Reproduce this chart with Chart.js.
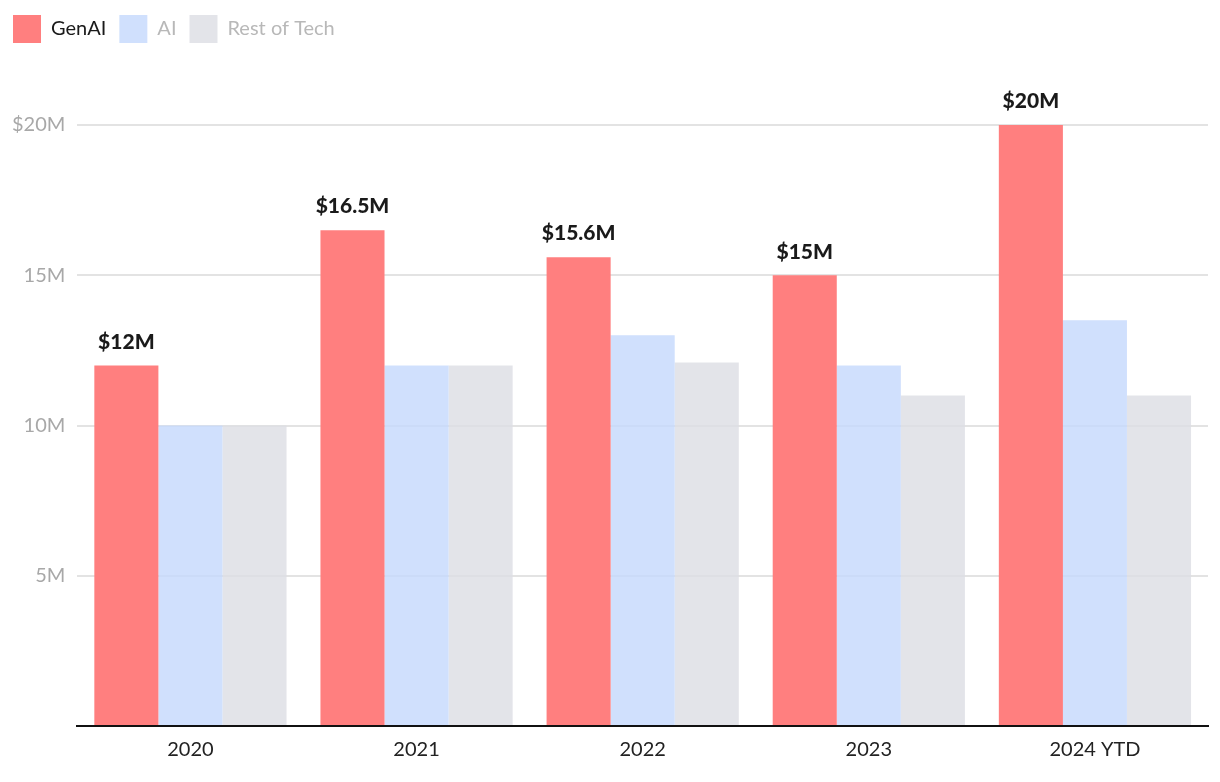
<!DOCTYPE html>
<html><head><meta charset="utf-8">
<script src="https://cdn.jsdelivr.net/npm/chart.js@4.4.1/dist/chart.umd.min.js"></script>
<style>html,body{margin:0;padding:0;background:#fff}#wrap{width:1220px;height:782px}</style>
</head><body><div id="wrap"><canvas id="c" width="1220" height="782"></canvas></div>
<script>
const categories = ['2020', '2021', '2022', '2023', '2024 YTD'];
const genAI = [12, 16.5, 15.6, 15, 20];
const ai = [10, 12, 13, 12, 13.5];
const restOfTech = [10, 12, 12.1, 11, 11];
const genAILabels = ['$12M', '$16.5M', '$15.6M', '$15M', '$20M'];
const seriesNames = ['GenAI', 'AI', 'Rest of Tech'];

const FONT = 'Lato, "Source Sans Pro", "Noto Sans", sans-serif';

const legendMargin = {
  id: 'legendMargin',
  beforeInit(chart) {
    const fit = chart.legend.fit;
    chart.legend.fit = function () {
      fit.bind(chart.legend)();
      this.height += 72;
    };
  }
};

const valueLabels = {
  id: 'valueLabels',
  afterDatasetsDraw(chart) {
    const ctx = chart.ctx;
    const meta = chart.getDatasetMeta(0);
    ctx.save();
    ctx.font = '900 21px ' + FONT;
    ctx.fillStyle = '#1a1a1a';
    ctx.textAlign = 'center';
    ctx.textBaseline = 'bottom';
    meta.data.forEach((bar, i) => {
      ctx.fillText(genAILabels[i], bar.x, bar.y - 13);
    });
    ctx.restore();
  }
};

new Chart(document.getElementById('c'), {
  type: 'bar',
  data: {
    labels: categories,
    datasets: [
      { label: seriesNames[0], data: genAI, backgroundColor: '#FF7F7F', categoryPercentage: 0.85, barPercentage: 1.0 },
      { label: seriesNames[1], data: ai, backgroundColor: 'rgba(196,216,252,0.8)', categoryPercentage: 0.85, barPercentage: 1.0 },
      { label: seriesNames[2], data: restOfTech, backgroundColor: 'rgba(220,221,227,0.8)', categoryPercentage: 0.85, barPercentage: 1.0 }
    ]
  },
  options: {
    responsive: false,
    animation: false,
    layout: { padding: { left: 0, right: 12, top: 2, bottom: 8 } },
    plugins: {
      legend: {
        position: 'top',
        align: 'start',
        labels: {
          boxWidth: 28,
          boxHeight: 28,
          padding: 13,
          font: { family: FONT, size: 20 },
          generateLabels(chart) {
            return chart.data.datasets.map((ds, i) => ({
              text: ds.label,
              fillStyle: ds.backgroundColor,
              strokeStyle: 'transparent',
              lineWidth: 0,
              fontColor: i === 0 ? '#1a1a1a' : '#b8b8b8',
              datasetIndex: i,
              hidden: false
            }));
          }
        }
      },
      tooltip: { enabled: false }
    },
    scales: {
      x: {
        grid: { display: false, drawTicks: false },
        border: { display: true, color: '#111', width: 2 },
        ticks: { color: '#222', font: { family: FONT, size: 20 }, padding: 12 }
      },
      y: {
        min: 0, max: 20,
        grid: { color: '#e3e3e3', lineWidth: 2, drawTicks: false },
        border: { display: false },
        ticks: {
          stepSize: 5,
          padding: 12,
          color: '#a8a8a8',
          font: { family: FONT, size: 20 },
          callback: v => v === 0 ? '' : (v === 20 ? '$20M' : v + 'M')
        }
      }
    }
  },
  plugins: [legendMargin, valueLabels]
});
</script>
</body></html>
